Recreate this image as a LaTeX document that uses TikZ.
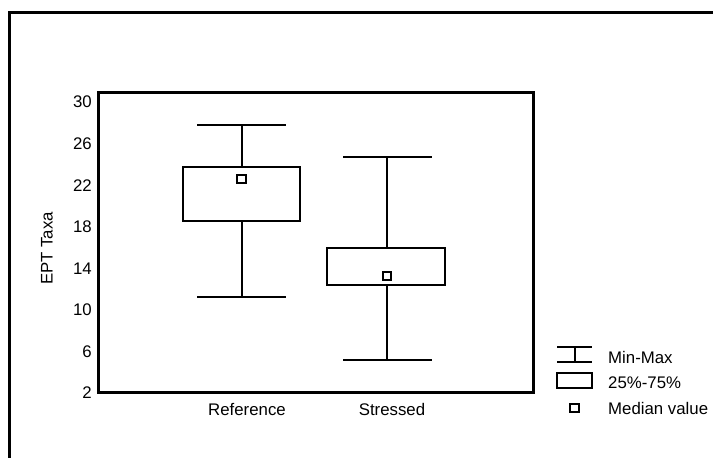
\documentclass[tikz,border=0pt]{standalone}
\usepackage{fontspec}
\setmainfont{Liberation Sans}
\begin{document}
\begin{tikzpicture}[x=1pt,y=1pt,
  lab/.style={font=\fontsize{16.8}{19}\selectfont, inner sep=0pt},
  frame/.style={line width=3pt},
  plotline/.style={line width=2pt},
  med/.style={draw, line width=2pt, fill=white, minimum size=8.5pt, inner sep=0pt}]

\newcommand\U{10.39pt}
\newcommand\B{65pt}
\newcommand\V[1]{\B + (#1 - 2)*\U}

\useasboundingbox (0,0) rectangle (713,458);

% outer frame
\draw[frame] (9,0) -- (9,445) -- (713,445);

% plot area
\draw[frame] (98,\B) rectangle (533,365);

\foreach \v in {2,6,...,30}
  \node[lab, anchor=east] (y\v) at (92, {\V{\v}}) {\v};

\node[lab, rotate=90] (ylab) at (47,209.5) {EPT Taxa};

%% Reference
\draw[plotline] (197, {\V{27.79}}) -- (286, {\V{27.79}});
\draw[plotline] (197, {\V{11.24}}) -- (286, {\V{11.24}});
\draw[plotline] (241.5, {\V{11.24}}) -- (241.5, {\V{18.55}});
\draw[plotline] (241.5, {\V{23.75}}) -- (241.5, {\V{27.79}});
\draw[plotline] (183, {\V{18.55}}) rectangle (300, {\V{23.75}});
\node[med] (mref) at (241.5, {\V{22.6}}) {};

%% Stressed
\draw[plotline] (343, {\V{24.71}}) -- (432, {\V{24.71}});
\draw[plotline] (343, {\V{5.18}}) -- (432, {\V{5.18}});
\draw[plotline] (387, {\V{5.18}}) -- (387, {\V{12.39}});
\draw[plotline] (387, {\V{15.96}}) -- (387, {\V{24.71}});
\draw[plotline] (327, {\V{12.39}}) rectangle (445, {\V{15.96}});
\node[med] (mstr) at (387, {\V{13.26}}) {};

\node[lab, anchor=base] (xref) at (247,42) {Reference};
\node[lab, anchor=base] (xstr) at (392,42) {Stressed};

%% legend
\draw[plotline] (557,111) -- (592,111);
\draw[plotline] (557,96) -- (592,96);
\draw[plotline] (574.5,96) -- (574.5,111);
\draw[plotline] (557,70) rectangle (592,85);
\node[med] (lmed) at (574.5,50) {};

\node[lab, anchor=west] (lminmax) at (608,101) {Min-Max};
\node[lab, anchor=west] (lbox) at (608,75) {25\%-75\%};
\node[lab, anchor=west] (lmedian) at (608,50) {Median value};

\end{tikzpicture}
\end{document}
